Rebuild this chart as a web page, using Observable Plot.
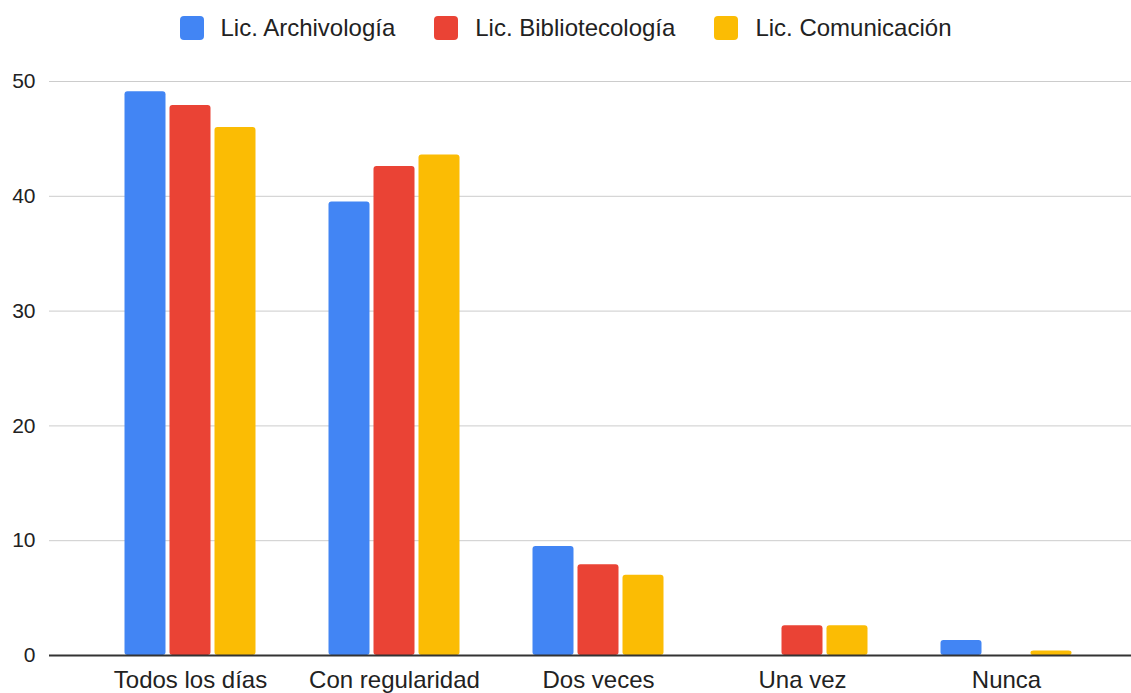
<!DOCTYPE html>
<html>
<head>
<meta charset="utf-8">
<script src="https://cdn.jsdelivr.net/npm/d3@7"></script>
<script src="https://cdn.jsdelivr.net/npm/@observablehq/plot@0.6"></script>
<style>
  html, body { margin: 0; padding: 0; background: #fff; }
  body { width: 1131px; height: 693px; overflow: hidden; font-family: "Liberation Sans", Arial, sans-serif; color: #222; }
  #legend { height: 55px; display: flex; justify-content: center; align-items: center; font-size: 24px; }
  .item { display: flex; align-items: center; margin: 0 19.5px; }
  .sw { width: 24px; height: 24px; border-radius: 4px; margin-right: 17px; }
</style>
</head>
<body>
<div id="legend"></div>
<div id="chart"></div>
<script>
const categories = ["Todos los días", "Con regularidad", "Dos veces", "Una vez", "Nunca"];
const series = ["Lic. Archivología", "Lic. Bibliotecología", "Lic. Comunicación"];
const archivologia = [49.1, 39.5, 9.5, 0, 1.3];
const bibliotecologia = [47.9, 42.6, 7.9, 2.6, 0];
const comunicacion = [46.0, 43.6, 7.0, 2.6, 0.4];
const colors = ["#4285F4", "#EA4335", "#FBBC04"];
const yTicks = [0, 10, 20, 30, 40, 50];

const valuesBySeries = [archivologia, bibliotecologia, comunicacion];
const data = series.flatMap((s, i) => categories.map((c, j) => ({category: c, series: s, value: valuesBySeries[i][j]})));

// legend
const legend = document.getElementById("legend");
series.forEach((s, i) => {
  const it = document.createElement("div");
  it.className = "item";
  const sw = document.createElement("div");
  sw.className = "sw";
  sw.style.background = colors[i];
  const t = document.createElement("span");
  t.textContent = s;
  it.appendChild(sw); it.appendChild(t);
  legend.appendChild(it);
});

const barW = 41, gap = 4, band = 204;
const groupW = barW * 3 + gap * 2;
const barMarks = series.map((s, i) => {
  const left = (band - groupW) / 2 + i * (barW + gap);
  return Plot.barY(data.filter(d => d.series === s), {
    x: "category", y: "value", fill: colors[i],
    insetLeft: left, insetRight: band - left - barW, rx: 3
  });
});

const chart = Plot.plot({
  width: 1131,
  height: 638,
  marginTop: 26,
  marginBottom: 38,
  marginLeft: 49,
  marginRight: 0,
  style: {fontFamily: "'Liberation Sans', Arial, sans-serif", fontSize: "24px", color: "#222", background: "#fff", overflow: "visible"},
  x: {domain: categories, padding: 0, insetLeft: 39, insetRight: 23, label: null, tickSize: 0, tickPadding: 15},
  y: {domain: [0, 50], ticks: yTicks, label: null, tickSize: 0, tickPadding: 14},
  marks: [
    Plot.ruleY(yTicks.filter(t => t !== 0), {stroke: "#cccccc", strokeWidth: 1}),
    ...barMarks,
    Plot.ruleY([0], {stroke: "#333333", strokeWidth: 2}),
    Plot.axisY({ticks: yTicks, tickSize: 0, tickPadding: 14, label: null, fontSize: 21})
  ]
});
document.getElementById("chart").appendChild(chart);
</script>
</body>
</html>
